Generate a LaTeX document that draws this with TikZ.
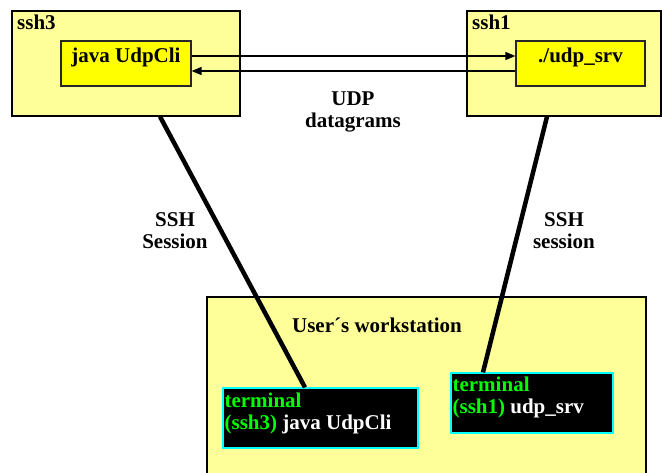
\documentclass[tikz,border=0pt]{standalone}
\usepackage{fontspec}
\setmainfont{Liberation Serif}
\usetikzlibrary{arrows.meta}
\definecolor{hostyellow}{HTML}{FFFF99}
\definecolor{procyellow}{HTML}{FFFF00}
\definecolor{termgreen}{HTML}{00FF00}
\definecolor{termcyan}{HTML}{00FFFF}
\tikzset{
	txt/.style={font=\fontsize{21}{22}\selectfont\bfseries, inner sep=0},
	hostbox/.style={draw=black, fill=hostyellow, line width=1.2pt},
	procbox/.style={draw=black!85, fill=procyellow, line width=1.2pt, txt, text height=21, text depth=24},
	termbox/.style={draw=termcyan, fill=black, line width=1.2pt},
	udp/.style={-{Triangle[length=10pt,width=8pt]}, line width=1.3pt},
	sshline/.style={line width=4.5pt}
}

\begin{document}
\begin{tikzpicture}[x=1pt, y=-1pt]
		%%%%% START %%%%%
		
		\useasboundingbox (0, 0) rectangle (662, 472);
		\clip (0, 0) rectangle (662, 472);
		
		\node[hostbox, minimum width=228, minimum height=105] (ssh3) at (126, 63.5) {};
		\node[txt, anchor=base west] (ssh3lbl) at (17, 29) {ssh3};
		\node[procbox, minimum width=130] (cli) at (126, 63.5) {java UdpCli};
		
		\node[hostbox, minimum width=194, minimum height=105] (ssh1) at (564, 63.5) {};
		\node[txt, anchor=base west] (ssh1lbl) at (472, 29) {ssh1};
		\node[procbox, minimum width=129] (srv) at (580.5, 63.5) {./udp\_srv};
		
		\draw[udp] ([yshift=7.5pt]cli.east) -- ([yshift=7.5pt]srv.west);
		\draw[udp] ([yshift=-7.5pt]srv.west) -- ([yshift=-7.5pt]cli.east);
		\node[txt, align=center, anchor=base] (udplbl) at (353, 127) {UDP\\datagrams};
		
		\node[hostbox, minimum width=439, minimum height=186] (ws) at (426.5, 390) {};
		\node[txt, anchor=base] (wslbl) at (377, 332) {User´s workstation};
		
		\node[termbox, minimum width=195, minimum height=60] (term3) at (320.5, 418) {};
		\node[txt, align=left, anchor=north west] (term3txt) at ([shift={(2, 5.5)}]term3.north west)
			{\color{termgreen}terminal\\\color{termgreen}(ssh3) \color{white}java UdpCli};
		\node[termbox, minimum width=162, minimum height=60] (term1) at (532, 403) {};
		\node[txt, align=left, anchor=north west] (term1txt) at ([shift={(2, 4.5)}]term1.north west)
			{\color{termgreen}terminal\\\color{termgreen}(ssh1) \color{white}udp\_srv};
		
		\draw[sshline] ([xshift=34pt]ssh3.south) -- ([xshift=-15.5pt]term3.north);
		\draw[sshline] ([xshift=-17pt]ssh1.south) -- ([xshift=-49pt]term1.north);
		\node[txt, align=center, anchor=base] (ssh3lnk) at (175, 248) {SSH\\Session};
		\node[txt, align=center, anchor=base] (ssh1lnk) at (564, 248) {SSH\\session};
		
		%%%%% END %%%%%
	\end{tikzpicture}
\end{document}
